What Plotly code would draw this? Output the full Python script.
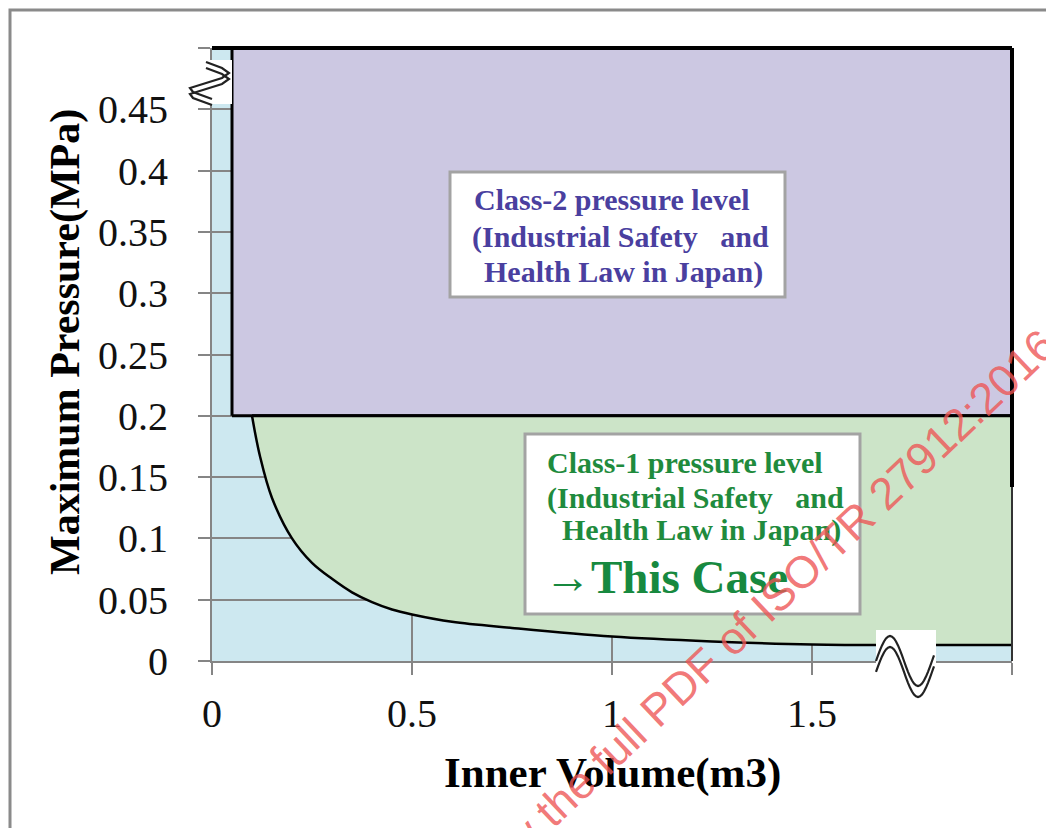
import math
import plotly.graph_objects as go

# ---------------- data ----------------
volume = [0.10, 0.12, 0.15, 0.20, 0.25, 0.30, 0.35, 0.40, 0.45, 0.50, 0.60, 0.75, 1.00, 1.25, 1.50, 1.75, 2.00]
pressure = [0.200, 0.167, 0.133, 0.100, 0.080, 0.067, 0.056, 0.048, 0.042, 0.038, 0.032, 0.027, 0.020, 0.016, 0.0135, 0.013, 0.013]

class_boundary_pressure = 0.2     # MPa, class-1 / class-2 border
class2_min_volume = 0.05          # m3
class1_min_volume = 0.10          # m3
x_max = 2.0
y_max = 0.5

x_ticks = [0, 0.5, 1, 1.5, 2]
x_tick_labels = ["0", "0.5", "1", "1.5", ""]
y_ticks = [0, 0.05, 0.1, 0.15, 0.2, 0.25, 0.3, 0.35, 0.4, 0.45, 0.5]
y_tick_labels = ["0", "0.05", "0.1", "0.15", "0.2", "0.25", "0.3", "0.35", "0.4", "0.45", ""]

class2_lines = ["Class-2 pressure level", "(Industrial Safety\u00a0\u00a0 and", "Health Law in Japan)"]
class1_lines = ["Class-1 pressure level", "(Industrial Safety\u00a0\u00a0 and", "Health Law in Japan)"]
case_text = "\u2192This Case"
x_title = "Inner Volume(m3)"
y_title = "Maximum Pressure(MPa)"
watermark = "Click to view the full PDF of ISO/TR 27912:2016"

# ---------------- layout helpers ----------------
W, H = 1046, 828
L, R, T, B = 212, 34, 48, 167
PW, PH = W - L - R, H - T - B


def px(x):
    return (x - L) / PW


def py(y):
    return (H - B - y) / PH


SERIF = "Liberation Serif"
BLUE_BG = "#cde8f0"
PURPLE = "#ccc8e2"
GREEN = "#cce4c8"
GRID = "#858585"

fig = go.Figure()

# class-2 region (purple)
fig.add_trace(go.Scatter(
    x=[class2_min_volume, x_max, x_max, class2_min_volume, class2_min_volume],
    y=[class_boundary_pressure, class_boundary_pressure, y_max, y_max, class_boundary_pressure],
    mode="lines", fill="toself", fillcolor=PURPLE,
    line=dict(color="black", width=3), hoverinfo="skip", showlegend=False))

# class-1 region (green) above the curve
fig.add_trace(go.Scatter(
    x=volume + [x_max, class1_min_volume],
    y=pressure + [class_boundary_pressure, class_boundary_pressure],
    mode="lines", fill="toself", fillcolor=GREEN,
    line=dict(width=0, color=GREEN), hoverinfo="skip", showlegend=False))

# the curve
fig.add_trace(go.Scatter(
    x=volume, y=pressure, mode="lines", line_shape="spline",
    line=dict(color="black", width=2.5), showlegend=False))

# class boundary line under purple box
fig.add_trace(go.Scatter(
    x=[class1_min_volume, x_max], y=[class_boundary_pressure, class_boundary_pressure],
    mode="lines", line=dict(color="black", width=3), showlegend=False))

shapes = []
# outer frame of the figure
shapes.append(dict(type="rect", xref="paper", yref="paper",
                   x0=px(10), x1=px(1080), y0=py(860), y1=py(10),
                   line=dict(color="#8a8a8a", width=3), fillcolor="rgba(0,0,0,0)", layer="below"))
# top and right borders
shapes.append(dict(type="line", xref="paper", yref="paper", x0=0, x1=1, y0=1, y1=1,
                   line=dict(color="black", width=4)))
shapes.append(dict(type="line", xref="paper", yref="paper", x0=1, x1=1, y0=py(487), y1=1,
                   line=dict(color="black", width=4)))
shapes.append(dict(type="line", xref="paper", yref="paper", x0=1, x1=1, y0=0, y1=py(487),
                   line=dict(color="#333333", width=2)))

# text boxes
for (x0, x1, y0, y1) in [(450, 785, 172, 297), (525, 860, 434, 614)]:
    shapes.append(dict(type="rect", xref="paper", yref="paper",
                       x0=px(x0), x1=px(x1), y0=py(y1), y1=py(y0),
                       fillcolor="white", line=dict(color="#a3a3a3", width=3), layer="above"))

# axis break on y axis
shapes.append(dict(type="rect", xref="paper", yref="paper",
                   x0=px(190), x1=px(232), y0=py(104), y1=py(60),
                   fillcolor="white", line=dict(width=0), layer="above"))


def path_from(points):
    s = "M " + " L ".join(f"{px(a):.5f},{py(b):.5f}" for a, b in points)
    return s


ybreak = [(206, 62), (222, 68), (229, 73), (222, 78), (190, 88), (193, 92), (212, 99)]
for dy in (0, 6):
    shapes.append(dict(type="path", xref="paper", yref="paper",
                       path=path_from([(a, b + dy) for a, b in ybreak]),
                       line=dict(color="#222222", width=2.2), layer="above"))

# axis break on x axis
shapes.append(dict(type="rect", xref="paper", yref="paper",
                   x0=px(876), x1=px(936), y0=py(663), y1=py(630),
                   fillcolor="white", line=dict(width=0), layer="above"))
wave = [(876 + i * 2, 661 - 25 * math.cos(2 * math.pi * (876 + i * 2 - 890) / 56)) for i in range(30)]
for dy in (0, 11):
    shapes.append(dict(type="path", xref="paper", yref="paper",
                       path=path_from([(a, b + dy) for a, b in wave]),
                       line=dict(color="#222222", width=2.2), layer="above"))

annotations = []
c2_color = "#4a3f9f"
for txt, (x, y) in zip(class2_lines, [(472, 200), (470, 237), (482, 272)]):
    annotations.append(dict(text=txt, xref="paper", yref="paper", x=px(x), y=py(y),
                            xanchor="left", yanchor="middle", showarrow=False,
                            font=dict(family=SERIF, size=30, color=c2_color, weight="bold")))
c1_color = "#1f8b3d"
for txt, (x, y) in zip(class1_lines, [(545, 463), (545, 498), (560, 530)]):
    annotations.append(dict(text=txt, xref="paper", yref="paper", x=px(x), y=py(y),
                            xanchor="left", yanchor="middle", showarrow=False,
                            font=dict(family=SERIF, size=30, color=c1_color, weight="bold")))
annotations.append(dict(text=case_text, xref="paper", yref="paper", x=px(542), y=py(577),
                        xanchor="left", yanchor="middle", showarrow=False,
                        font=dict(family=SERIF, size=47, color="#17893f", weight="bold")))

# axis titles
annotations.append(dict(text=x_title, xref="paper", yref="paper", x=px(612), y=py(773),
                        xanchor="center", yanchor="middle", showarrow=False,
                        font=dict(family=SERIF, size=43, color="black", weight="bold")))
annotations.append(dict(text=y_title, xref="paper", yref="paper", x=px(66), y=py(342),
                        xanchor="center", yanchor="middle", showarrow=False, textangle=-90,
                        font=dict(family=SERIF, size=42, color="black", weight="bold")))

# watermark
annotations.append(dict(text=watermark, xref="paper", yref="paper", x=px(700), y=py(668),
                        xanchor="center", yanchor="middle", showarrow=False, textangle=-43.5,
                        font=dict(family="Liberation Sans", size=45, color="rgba(238,85,85,0.8)")))

axis_common = dict(showgrid=True, gridcolor=GRID, gridwidth=2, zeroline=False,
                   showline=True, linecolor=GRID, linewidth=2,
                   ticks="outside", ticklen=12, tickwidth=2, tickcolor=GRID,
                   tickfont=dict(family=SERIF, size=40, color="#111111"))

fig.update_layout(
    width=W, height=H,
    margin=dict(l=L, r=R, t=T, b=B),
    paper_bgcolor="white", plot_bgcolor=BLUE_BG,
    showlegend=False,
    xaxis=dict(range=[0, x_max], tickvals=x_ticks, ticktext=x_tick_labels,
               ticklabelstandoff=4, **axis_common),
    yaxis=dict(range=[0, y_max], tickvals=y_ticks, ticktext=y_tick_labels,
               ticklabelstandoff=22, **axis_common),
    shapes=shapes, annotations=annotations,
)

fig.write_html("out.html", config={"displayModeBar": False},
               post_script="document.body.style.margin='0px';document.body.style.overflow='hidden';")
